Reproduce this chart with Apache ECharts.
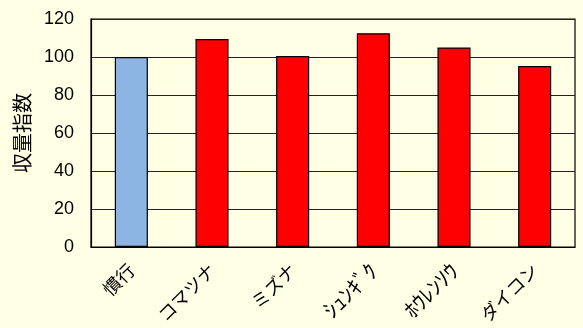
<!DOCTYPE html>
<html><head><meta charset="utf-8">
<script src="https://cdn.jsdelivr.net/npm/echarts@6/dist/echarts.min.js"></script>
<style>html,body{margin:0;padding:0;background:#FFFFE6;}#c{width:583px;height:328px;}</style>
</head><body><div id="c"></div>
<script>
const categories = ['慣行', 'コマツナ', 'ミズナ', 'ｼｭﾝｷﾞｸ', 'ﾎｳﾚﾝｿｳ', 'ダイコン'];
const values = [100, 109.5, 100.5, 112.5, 105, 95.3];
const barColors = ['#8EB4E3', '#FF0000', '#FF0000', '#FF0000', '#FF0000', '#FF0000'];
const yTicks = [0, 20, 40, 60, 80, 100, 120];
const yName = '収量指数';

const halfWidth = s => /[\uFF61-\uFF9F]/.test(s);
const chart = echarts.init(document.getElementById('c'));
chart.setOption({
  backgroundColor: '#FFFFE6',
  animation: false,
  grid: {left: 91, right: 8, top: 19, bottom: 81, show: true, borderColor: '#000', borderWidth: 1.2, backgroundColor: '#FFFFE6'},
  xAxis: {
    type: 'category',
    data: categories.map(c => halfWidth(c) ? {value: c, textStyle: {fontSize: 22}} : c),
    axisLine: {lineStyle: {color: '#000', width: 1.2}},
    axisTick: {inside: true, length: 5, lineStyle: {color: '#000'}},
    axisLabel: {rotate: 45, color: '#000', fontSize: 18, margin: 20, fontFamily: '"Noto Sans CJK JP", sans-serif'}
  },
  yAxis: {
    type: 'value', min: yTicks[0], max: yTicks[yTicks.length - 1], interval: 20,
    name: yName, nameLocation: 'middle', nameGap: 59,
    nameTextStyle: {color: '#000', fontSize: 20, fontFamily: '"Noto Sans CJK JP", sans-serif'},
    axisLine: {show: true, lineStyle: {color: '#000', width: 1.2}},
    axisTick: {show: false},
    axisLabel: {color: '#000', fontSize: 18, margin: 17, fontFamily: 'Arial, "Liberation Sans", sans-serif'},
    splitLine: {lineStyle: {color: '#222', width: 1.2}}
  },
  series: [{
    type: 'bar', barWidth: '41%',
    data: values.map((v, i) => ({value: v, itemStyle: {color: barColors[i]}})),
    itemStyle: {borderColor: '#000', borderWidth: 1.2}
  }]
});
</script></body></html>
